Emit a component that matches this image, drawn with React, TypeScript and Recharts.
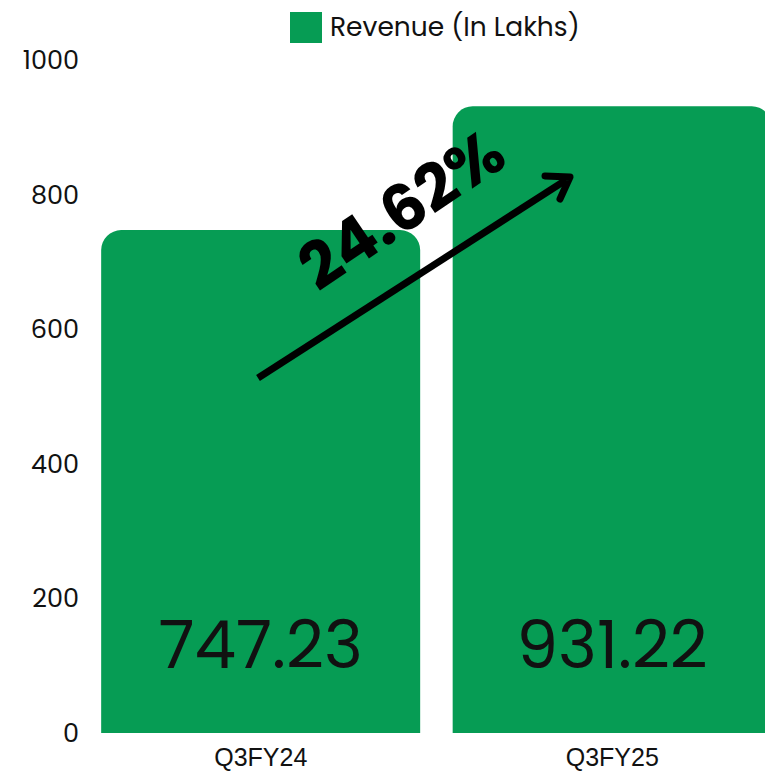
import { Bar, BarChart, LabelList, Legend, XAxis, YAxis } from "recharts";

// ============================================
// Data
// ============================================

const quarters = ["Q3FY24", "Q3FY25"];
const revenue = [747.23, 931.22];
const yTicks = [0, 200, 400, 600, 800, 1000];
const growthLabel = "24.62%";
const seriesName = "Revenue (In Lakhs)";

const GREEN = "#069C54";
const FONT = "Poppins, Inter, 'Noto Sans', sans-serif";
const AXIS_FONT = "'Liberation Sans', Arial, sans-serif";

const data = quarters.map((q, i) => ({ quarter: q, revenue: revenue[i] }));

// ============================================
// Legend
// ============================================

function RevenueLegend() {
  return (
    <div style={{ display: "flex", alignItems: "center", fontFamily: FONT }}>
      <span style={{ width: 32, height: 31, background: GREEN, display: "inline-block" }} />
      <span style={{ marginLeft: 8, fontSize: 26.5, color: "#111" }}>{seriesName}</span>
    </div>
  );
}

// ============================================
// Component
// ============================================

export default function App() {
  return (
    <div
      style={{
        position: "absolute",
        top: 0,
        left: 0,
        width: 765,
        height: 775,
        overflow: "hidden",
        background: "#fff",
      }}
    >
      <BarChart
        width={790}
        height={775}
        data={data}
        margin={{ top: 60, right: 2, left: 0, bottom: 12 }}
        barCategoryGap="4.6%"
      >
        <XAxis
          dataKey="quarter"
          axisLine={false}
          tickLine={false}
          tickMargin={9}
          tick={{ fill: "#111", fontSize: 25, fontFamily: AXIS_FONT }}
        />
        <YAxis
          domain={[0, 1000]}
          ticks={yTicks}
          width={85}
          axisLine={false}
          tickLine={false}
          tickSize={5}
          tickMargin={1}
          tick={{ fill: "#111", fontSize: 25.5, fontFamily: FONT }}
        />
        <Legend
          verticalAlign="middle"
          align="center"
          wrapperStyle={{ top: 7, left: 290, width: "auto" }}
          content={<RevenueLegend />}
        />
        <Bar
          dataKey="revenue"
          name={seriesName}
          fill={GREEN}
          radius={[20, 20, 0, 0]}
          isAnimationActive={false}
        >
          <LabelList
            dataKey="revenue"
            position="insideBottom"
            offset={65}
            formatter={(v: number) => v.toFixed(2)}
            style={{ fill: "#111", fontSize: 66, fontFamily: FONT }}
          />
        </Bar>
      </BarChart>
      <svg
        width={765}
        height={775}
        style={{ position: "absolute", top: 0, left: 0, pointerEvents: "none" }}
      >
        <line x1={258} y1={378} x2={566} y2={180} stroke="#000" strokeWidth={7} />
        <polyline
          points="545,176 570,177 560,199"
          fill="none"
          stroke="#000"
          strokeWidth={7}
          strokeLinecap="round"
          strokeLinejoin="round"
        />
        <text
          x={414}
          y={228}
          textAnchor="middle"
          transform="rotate(-34 414 228)"
          style={{ fontFamily: FONT, fontSize: 64, fontWeight: 700, fill: "#000" }}
        >
          {growthLabel}
        </text>
      </svg>
    </div>
  );
}
